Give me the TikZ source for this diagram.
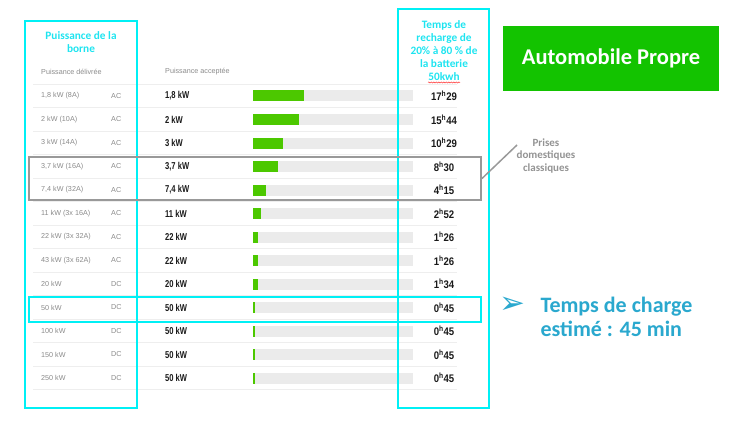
\documentclass[tikz,border=0pt]{standalone}
\usepackage{fontspec}
\setmainfont{Liberation Sans}
\newfontfamily\calfont{Carlito}
\newfontfamily\symfont{DejaVu Sans}
\usetikzlibrary{decorations.pathmorphing}
\definecolor{borne}{HTML}{00F0F5}
\definecolor{titrecyan}{HTML}{1EE4F0}
\definecolor{estimebleu}{HTML}{2AA8CE}
\definecolor{logovert}{HTML}{13C300}
\definecolor{barvert}{HTML}{4CC800}
\definecolor{barfond}{HTML}{EBEBEB}
\definecolor{filet}{HTML}{EEEEEE}
\definecolor{gristexte}{HTML}{8A8A8A}
\tikzset{> = stealth,
  cyanbox/.style={draw=borne, line width=2.5pt, inner sep=0pt},
  graybox/.style={draw=gray!80, line width=2pt, inner sep=0pt},
  titre/.style={text=titrecyan, align=center, font=\calfont\bfseries\fontsize{11.3}{13}\selectfont},
  deliv/.style={anchor=west, text=gristexte, font=\fontsize{7.2}{8}\selectfont, inner sep=0pt},
  accept/.style={anchor=west, xscale=0.76, text=black!90, font=\bfseries\fontsize{10}{12}\selectfont, inner sep=0pt},
  duree/.style={xscale=0.87, text=black!90, font=\bfseries\fontsize{11}{13}\selectfont, inner sep=0pt},
  sep/.style={draw=filet, line width=0.8pt},
  logo/.style={fill=logovert, text=white, font=\calfont\bfseries\fontsize{22.5}{26}\selectfont},
  prises/.style={text=gray!85, align=center, font=\calfont\bfseries\fontsize{11}{12.5}\selectfont},
  estime/.style={text=estimebleu, align=left, font=\calfont\bfseries\fontsize{22}{24.5}\selectfont}
}
\begin{document}
\begin{tikzpicture}[x=1pt, y=-1pt]
\useasboundingbox (0,0) rectangle (745,428);
% table header
\node[deliv] (hdeliv) at (41,72) {Puissance délivrée};
\node[deliv] (haccept) at (165,72) {Puissance acceptée};
% table rules
\foreach \k in {0,...,13}
  \draw[sep] (33,84.25+\k*23.5) -- (457,84.25+\k*23.5);
% table rows
\foreach \del/\typ/\acc/\barw/\hh/\mm [count=\i] in {
  {1,8 kW (8A)}/AC/{1,8 kW}/51/17/29,
  {2 kW (10A)}/AC/{2 kW}/46/15/44,
  {3 kW (14A)}/AC/{3 kW}/30/10/29,
  {3,7 kW (16A)}/AC/{3,7 kW}/25/8/30,
  {7,4 kW (32A)}/AC/{7,4 kW}/13/4/15,
  {11 kW (3x 16A)}/AC/{11 kW}/8/2/52,
  {22 kW (3x 32A)}/AC/{22 kW}/4.5/1/26,
  {43 kW (3x 62A)}/AC/{22 kW}/4.5/1/26,
  {20 kW}/DC/{20 kW}/4.5/1/34,
  {50 kW}/DC/{50 kW}/2/0/45,
  {100 kW}/DC/{50 kW}/2/0/45,
  {150 kW}/DC/{50 kW}/2/0/45,
  {250 kW}/DC/{50 kW}/2/0/45}
{
  \pgfmathsetmacro\y{96+(\i-1)*23.5}
  \node[deliv] (d\i) at (41,\y) {\del};
  \node[deliv] (t\i) at (111,\y) {\typ};
  \node[accept] (a\i) at (165,\y) {\acc};
  \fill[barfond] (253,\y-5.5) rectangle (413,\y+5.5);
  \fill[barvert] (253,\y-5.5) rectangle ++(\barw,11);
  \node[duree] (h\i) at (444,\y) {\hh\textsuperscript{h}\mm};
}
% frames
\node[cyanbox, minimum width=112, minimum height=387] (borne) at (81,214.5) {};
\node[cyanbox, minimum width=91, minimum height=399] (temps) at (443.5,208.5) {};
\node[graybox, minimum width=452, minimum height=43] (dom) at (255,178.5) {};
\node[cyanbox, minimum width=452, minimum height=25] (rapide) at (255,309.5) {};
% headings
\node[titre] (tborne) at (81,42) {Puissance de la\\borne};
\node[titre] (ttemps) at (444,50.5) {Temps de\\recharge de\\20\% à 80 \% de\\la batterie\\50kwh};
\draw[red!80, line width=0.5pt, decorate, decoration={snake, amplitude=0.6pt, segment length=2.5pt}] (428,82.5) -- (460,82.5);
% logo
\node[logo, minimum width=216, minimum height=65] (auto) at (611,58.5) {Automobile Propre};
% note
\node[prises] (prises) at (546,156) {Prises\\domestiques\\classiques};
\coordinate (pend) at (517,145);
\draw[gray!80, line width=1.5pt] (dom.east) -- (pend);
% estimate
\node[text=estimebleu, font=\symfont\fontsize{31}{33}\selectfont, inner sep=0pt] (puce) at (512,305) {➢};
\node[estime, anchor=west] (estime) at (537,317) {Temps de charge\\estimé : 45 min};
\end{tikzpicture}
\end{document}
